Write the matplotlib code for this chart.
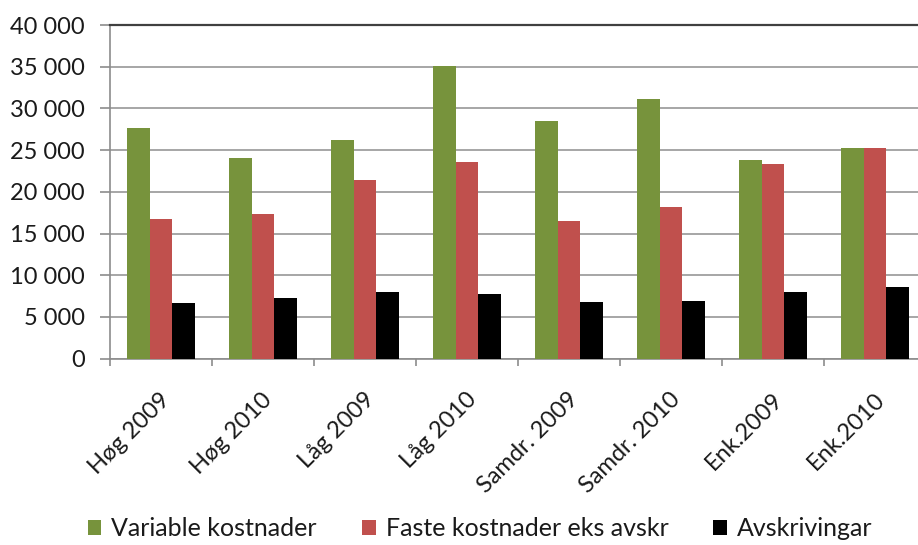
import numpy as np
import matplotlib
matplotlib.use("Agg")
import matplotlib.pyplot as plt
from matplotlib.ticker import FuncFormatter, MultipleLocator
import matplotlib.transforms as mtransforms

plt.rcParams['font.family'] = ['Lato', 'DejaVu Sans']

categories = ["Høg 2009", "Høg 2010", "Låg 2009", "Låg 2010",
              "Samdr. 2009", "Samdr. 2010", "Enk.2009", "Enk.2010"]
variable = [27700, 24000, 26200, 35100, 28500, 31100, 23850, 25300]
faste = [16800, 17400, 21400, 23550, 16500, 18200, 23300, 25300]
avskr = [6650, 7250, 8050, 7750, 6800, 6950, 8050, 8650]

series_names = ["Variable kostnader", "Faste kostnader eks avskr", "Avskrivingar"]
colors = ["#77933C", "#C0504D", "#000000"]

fig = plt.figure(figsize=(9.18, 5.45), dpi=100)
ax = fig.add_axes([110/918, 1 - 358.7/545, 816/918, (358.7 - 25)/545])

x = np.arange(len(categories))
w = 0.22
for i, (vals, name, c) in enumerate(zip([variable, faste, avskr], series_names, colors)):
    ax.bar(x + (i - 1) * w, vals, width=w, color=c, label=name, zorder=3)

ax.set_xlim(-0.5, len(categories) - 0.5)
ax.set_ylim(0, 40000)
ax.yaxis.set_major_locator(MultipleLocator(5000))
ax.yaxis.set_major_formatter(FuncFormatter(lambda v, p: f"{int(v):,}".replace(",", " ")))
ax.grid(axis='y', color="#A6A6A6", linewidth=1.4, zorder=0)

ax.spines["right"].set_visible(False)
ax.spines["top"].set_color("#404040")
ax.spines["top"].set_linewidth(1.6)
for s in ["left", "bottom"]:
    ax.spines[s].set_color("#8C8C8C")
    ax.spines[s].set_linewidth(1.2)

ax.tick_params(axis='y', labelsize=17, length=7, width=1.2, color="#8C8C8C",
               pad=11, labelcolor="#1a1a1a")
ax.set_xticks(x)
ax.set_xticks(np.arange(-0.5, len(categories), 1.0), minor=True)
ax.tick_params(axis='x', which='major', length=0, pad=27)
ax.tick_params(axis='x', which='minor', length=5, width=1.2, color="#8C8C8C")
offset = mtransforms.ScaledTranslation(6/100, 0, fig.dpi_scale_trans)
ax.set_xticklabels(categories, rotation=45, ha='right', va='center',
                   rotation_mode='anchor', fontsize=17, color="#1a1a1a")
for lbl in ax.get_xticklabels():
    lbl.set_transform(lbl.get_transform() + offset)

fig.legend(loc='lower center', bbox_to_anchor=(0.523, -0.032), ncol=3, frameon=False,
           fontsize=18, handlelength=0.55, handleheight=0.55, handletextpad=0.4,
           columnspacing=1.8, labelcolor="#1a1a1a")

fig.savefig("out.png", dpi=100)
